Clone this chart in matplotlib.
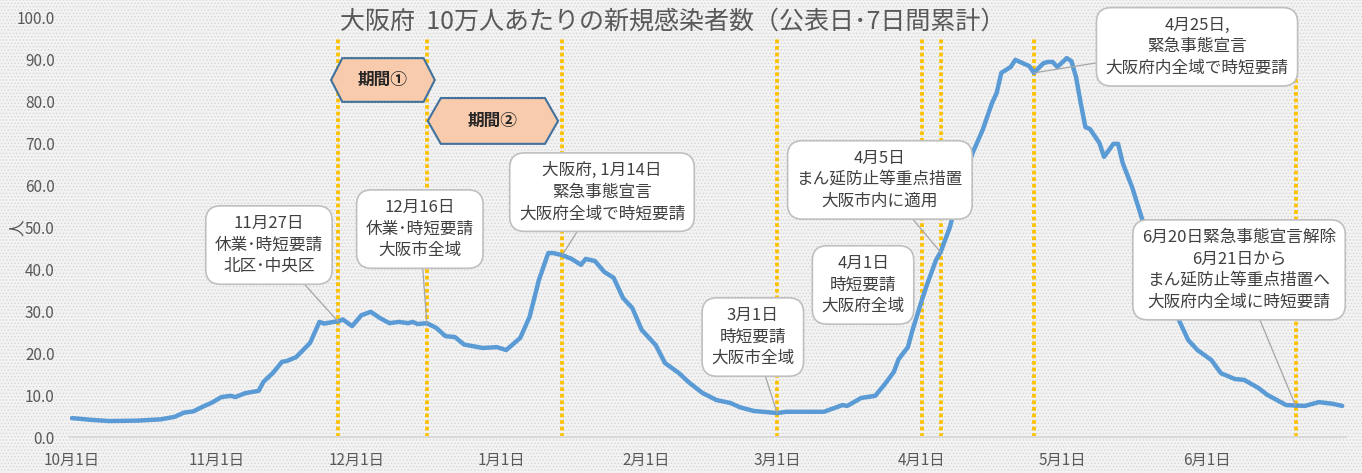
import numpy as np
import pandas as pd
import matplotlib
matplotlib.use('Agg')
import matplotlib.pyplot as plt
import matplotlib.dates as mdates
from matplotlib.patches import Polygon, Rectangle

plt.rcParams['font.family'] = ['Noto Sans CJK JP', 'DejaVu Sans']

# 日付と10万人あたり新規感染者数(7日間累計), グラフから読み取り
dates = ['2020-10-01', '2020-10-05', '2020-10-09', '2020-10-15', '2020-10-20', '2020-10-23',
         '2020-10-25', '2020-10-27', '2020-10-29', '2020-10-31', '2020-11-02', '2020-11-04',
         '2020-11-05', '2020-11-07', '2020-11-10', '2020-11-11', '2020-11-13', '2020-11-15',
         '2020-11-16', '2020-11-18', '2020-11-21', '2020-11-23', '2020-11-24', '2020-11-26',
         '2020-11-27', '2020-11-28', '2020-11-30', '2020-12-02', '2020-12-04', '2020-12-06',
         '2020-12-08', '2020-12-10', '2020-12-12', '2020-12-13', '2020-12-14', '2020-12-16',
         '2020-12-18', '2020-12-20', '2020-12-22', '2020-12-24', '2020-12-28', '2020-12-31',
         '2021-01-02', '2021-01-05', '2021-01-07', '2021-01-09', '2021-01-11', '2021-01-12',
         '2021-01-14', '2021-01-16', '2021-01-18', '2021-01-19', '2021-01-21', '2021-01-23',
         '2021-01-25', '2021-01-27', '2021-01-29', '2021-01-31', '2021-02-03', '2021-02-05',
         '2021-02-08', '2021-02-10', '2021-02-13', '2021-02-16', '2021-02-19', '2021-02-21',
         '2021-02-24', '2021-03-01', '2021-03-03', '2021-03-07', '2021-03-11', '2021-03-15',
         '2021-03-16', '2021-03-19', '2021-03-22', '2021-03-24', '2021-03-26', '2021-03-27',
         '2021-03-29', '2021-03-30', '2021-04-01', '2021-04-02', '2021-04-04', '2021-04-05',
         '2021-04-07', '2021-04-09', '2021-04-12', '2021-04-14', '2021-04-16', '2021-04-17',
         '2021-04-18', '2021-04-20', '2021-04-21', '2021-04-24', '2021-04-25', '2021-04-27',
         '2021-04-28', '2021-04-29', '2021-04-30', '2021-05-02', '2021-05-03', '2021-05-04',
         '2021-05-05', '2021-05-06', '2021-05-07', '2021-05-09', '2021-05-10', '2021-05-12',
         '2021-05-13', '2021-05-14', '2021-05-16', '2021-05-18', '2021-05-22', '2021-05-26',
         '2021-05-28', '2021-05-30', '2021-06-02', '2021-06-04', '2021-06-07', '2021-06-09',
         '2021-06-12', '2021-06-14', '2021-06-18', '2021-06-20', '2021-06-22', '2021-06-25',
         '2021-06-28', '2021-06-30']
values = [4.5, 4.1, 3.8, 3.9, 4.2, 4.8,
          5.8, 6.1, 7.2, 8.2, 9.5, 9.8,
          9.5, 10.4, 11.0, 13.1, 15.2, 17.9,
          18.1, 19.0, 22.4, 27.4, 27.0, 27.4,
          27.5, 28.0, 26.4, 29.0, 29.8, 28.3,
          27.1, 27.4, 27.1, 27.4, 26.9, 27.1,
          26.0, 24.0, 23.8, 22.0, 21.2, 21.4,
          20.7, 23.6, 28.6, 37.4, 43.8, 43.8,
          43.3, 42.4, 41.0, 42.4, 41.9, 39.3,
          37.9, 33.1, 30.7, 25.5, 21.9, 17.6,
          15.2, 13.1, 10.5, 8.8, 8.1, 7.1,
          6.2, 5.7, 6.0, 6.0, 6.0, 7.6,
          7.4, 9.3, 9.8, 12.5, 15.5, 18.5,
          21.4, 25.5, 32.6, 36.0, 42.1, 44.0,
          50.0, 58.8, 68.0, 73.1, 79.5, 81.9,
          86.7, 88.1, 89.8, 88.3, 86.7, 89.0,
          89.3, 89.3, 88.1, 90.2, 89.5, 85.7,
          79.5, 73.8, 73.3, 70.0, 66.7, 69.8,
          69.8, 65.2, 59.5, 52.4, 40.0, 27.9,
          23.1, 20.7, 18.3, 15.2, 13.8, 13.6,
          11.7, 10.0, 7.6, 7.5, 7.4, 8.3,
          7.9, 7.4]

# 施策の日付(縦の点線)
event_dates = ['2020-11-27', '2020-12-16', '2021-01-14', '2021-03-01',
               '2021-04-01', '2021-04-05', '2021-04-25', '2021-06-20']

# 吹き出しの文字と対応する施策日(Noneは引き出し線なし)
note_texts = ['11月27日\n休業･時短要請\n北区･中央区',
              '12月16日\n休業･時短要請\n大阪市全域',
              '大阪府, 1月14日\n緊急事態宣言\n大阪府全域で時短要請',
              '3月1日\n時短要請\n大阪市全域',
              '4月1日\n時短要請\n大阪府全域',
              '4月5日\nまん延防止等重点措置\n大阪市内に適用',
              '4月25日,\n緊急事態宣言\n大阪府内全域で時短要請',
              '6月20日緊急事態宣言解除\n6月21日から\nまん延防止等重点措置へ\n大阪府内全域に時短要請']
note_targets = ['2020-11-27', '2020-12-16', '2021-01-14', '2021-03-01',
                None, '2021-04-05', '2021-04-25', '2021-06-20']

month_ticks = ['2020-10-01', '2020-11-01', '2020-12-01', '2021-01-01', '2021-02-01',
               '2021-03-01', '2021-04-01', '2021-05-01', '2021-06-01']
month_labels = ['10月1日', '11月1日', '12月1日', '1月1日', '2月1日',
                '3月1日', '4月1日', '5月1日', '6月1日']

series = pd.Series(values, index=pd.to_datetime(dates))
base = mdates.date2num(pd.Timestamp('2020-10-01'))

fig = plt.figure(figsize=(13.62, 4.73), dpi=100)
fig.patch.set_facecolor('#f3f3f3')
# 背景の細かい点模様
plt.rcParams['hatch.linewidth'] = 0.6
fig.patches.append(Rectangle((0, 0), 1, 1, transform=fig.transFigure, facecolor='#f3f3f3',
                             edgecolor='#d6d6d6', hatch='.....', linewidth=0, zorder=-10))

ax = fig.add_axes([70 / 1362, 36 / 473, 1276 / 1362, 420 / 473])
ax.set_facecolor('none')

# 縦の点線
for d in event_dates:
    ax.vlines(pd.Timestamp(d), 0, 95, color='#ffc000', linewidth=2.7,
              linestyles=(0, (1, 0.75)), zorder=2)

ax.plot(series.index, series.values, color='#5b9bd5', linewidth=3.2, zorder=3,
        solid_capstyle='round', solid_joinstyle='round')

ax.set_xlim(base - 0.4, base + 272.8)
ax.set_ylim(0, 100)
ax.set_yticks(np.arange(0, 101, 10))
ax.set_yticklabels([f'{v:.1f}' for v in np.arange(0, 101, 10)])
ax.set_xticks(pd.to_datetime(month_ticks))
ax.set_xticklabels(month_labels)
ax.tick_params(axis='y', length=0, pad=11, labelsize=11, labelcolor='#595959')
ax.tick_params(axis='x', length=0, pad=11, labelsize=11, labelcolor='#595959')
for s in ['top', 'right', 'left']:
    ax.spines[s].set_visible(False)
ax.spines['bottom'].set_color('#d9d9d9')
ax.spines['bottom'].set_linewidth(1.5)

fig.text(673 / 1362, 1 - 22 / 473, '大阪府  10万人あたりの新規感染者数（公表日･7日間累計）',
         ha='center', va='center', fontsize=18, color='#595959')
fig.text(17 / 1362, 1 - 228 / 473, '人', rotation=90, ha='center', va='center',
         fontsize=12, color='#595959')

# 吹き出しの位置(基準日からの日数, 縦軸の値)
note_pos = [(42.2, 45.7), (74.5, 49.5), (113.5, 58.3), (145.8, 23.8),
            (169.4, 36.2), (173.0, 61.2), (240.9, 92.9), (249.9, 39.8)]
for text, (dx, yy), tgt in zip(note_texts, note_pos, note_targets):
    box = dict(boxstyle='round,pad=0.55,rounding_size=0.9', fc='white', ec='#bfbfbf', lw=1.2)
    if tgt is None:
        ax.text(base + dx, yy, text, ha='center', va='center', fontsize=12,
                color='#404040', linespacing=1.35, bbox=box, zorder=5)
    else:
        t = pd.Timestamp(tgt)
        ax.annotate(text, xy=(t, series[t]), xytext=(base + dx, yy),
                    ha='center', va='center', fontsize=12, color='#404040',
                    linespacing=1.35, bbox=box, zorder=5,
                    arrowprops=dict(arrowstyle='-', color='#a6a6a6', lw=0.9,
                                    shrinkA=0, shrinkB=0))


def hexagon(x0, x1, y0, y1, inset, label):
    yc = (y0 + y1) / 2
    pts = [(x0, yc), (x0 + inset, y1), (x1 - inset, y1), (x1, yc),
           (x1 - inset, y0), (x0 + inset, y0)]
    ax.add_patch(Polygon(pts, closed=True, facecolor='#f8cbad', edgecolor='#41719c',
                         linewidth=1.5, zorder=6))
    ax.text((x0 + x1) / 2, yc, label, ha='center', va='center', fontsize=12,
            fontweight='bold', color='#262626', zorder=7)


hexagon(base + 55.5, base + 77.7, 79.8, 90.2, 2.4, '期間①')
hexagon(base + 76.2, base + 104.1, 69.8, 80.7, 2.8, '期間②')

fig.savefig('out.png', dpi=100, facecolor=fig.get_facecolor())
